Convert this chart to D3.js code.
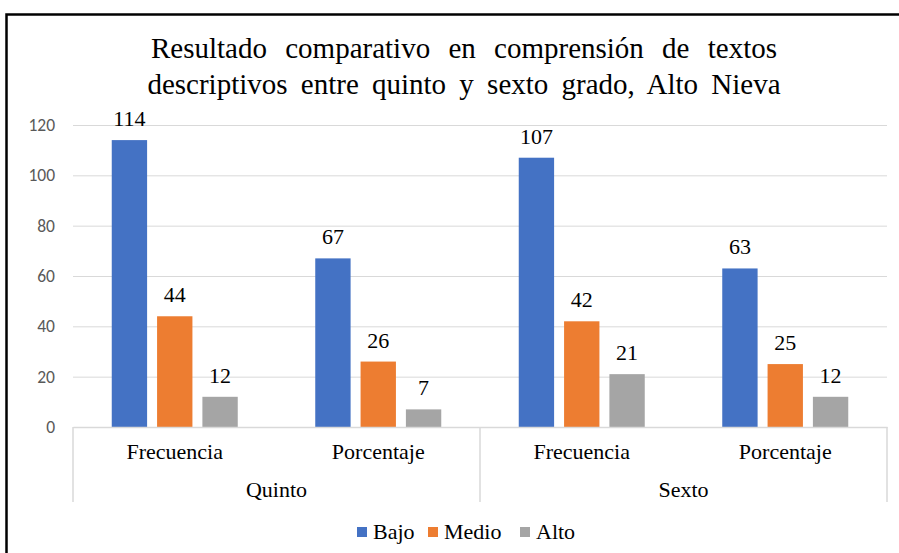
<!DOCTYPE html>
<html>
<head>
<meta charset="utf-8">
<style>
  html, body { margin: 0; padding: 0; background: #fff; }
  svg { display: block; }
</style>
</head>
<body>
<svg id="svg" width="899" height="553"></svg>
<script src="https://d3js.org/d3.v7.min.js"></script>
<script>
// data
const groups = ['Quinto', 'Sexto']
const measures = ['Frecuencia', 'Porcentaje']
const seriesNames = ['Bajo', 'Medio', 'Alto']
const bajo = [114, 67, 107, 63]
const medio = [44, 26, 42, 25]
const alto = [12, 7, 21, 12]
const yTicks = [0, 20, 40, 60, 80, 100, 120]
const titleLines = ['Resultado comparativo en comprensión de textos',
                    'descriptivos entre quinto y sexto grado, Alto Nieva']

const colors = { Bajo: '#4472C4', Medio: '#ED7D31', Alto: '#A5A5A5' }
const serif = '"Liberation Serif", "Times New Roman", serif'
const sans = 'Carlito, Calibri, Lato, sans-serif'

// build rows
const categories = []
groups.forEach(g => measures.forEach(m => categories.push({ group: g, measure: m, key: g + '|' + m })))
const rows = categories.map((c, i) => ({ ...c, Bajo: bajo[i], Medio: medio[i], Alto: alto[i] }))

const plot = { left: 73, right: 887, top: 125, bottom: 427 }

const svg = d3.select('#svg')

// outer frame
svg.append('rect')
  .attr('x', 6.5).attr('y', 14.5)
  .attr('width', 1000).attr('height', 1000)
  .attr('fill', 'none').attr('stroke', '#000').attr('stroke-width', 2.5)

// title (wide word gaps like the original)
const titleSpacing = [11, 6]
svg.append('text')
  .attr('x', 464).attr('y', 58)
  .attr('text-anchor', 'middle')
  .style('font-family', serif).style('font-size', '29px')
  .attr('fill', '#000')
  .selectAll('tspan').data(titleLines).enter().append('tspan')
  .attr('x', 464).attr('dy', (d, i) => i === 0 ? 0 : 36)
  .style('word-spacing', (d, i) => titleSpacing[i] + 'px')
  .text(d => d)

// scales
const x0 = d3.scaleBand().domain(categories.map(d => d.key)).range([plot.left, plot.right]).padding(0)
const xg = d3.scaleBand().domain(groups).range([plot.left, plot.right]).padding(0)
const clusterW = 126
const x1 = d3.scaleBand().domain(seriesNames)
  .range([(x0.bandwidth() - clusterW) / 2, (x0.bandwidth() + clusterW) / 2])
  .paddingInner(0.22).paddingOuter(0)
const y = d3.scaleLinear().domain([0, 120]).range([plot.bottom, plot.top])

// gridlines + value labels
const leftAxis = d3.axisLeft(y).tickValues(yTicks).tickSize(-(plot.right - plot.left)).tickPadding(18)
const gy = svg.append('g').attr('transform', `translate(${plot.left},0)`).call(leftAxis)
gy.select('.domain').remove()
gy.selectAll('.tick line').attr('stroke', '#D9D9D9').attr('stroke-width', 1)
gy.selectAll('.tick text')
  .attr('fill', '#595959')
  .style('font-family', sans).style('font-size', '17.5px')

// bars
const cat = svg.append('g').selectAll('g').data(rows).enter().append('g')
  .attr('transform', d => `translate(${x0(d.key)},0)`)

cat.selectAll('rect')
  .data(d => seriesNames.map(s => ({ s, v: d[s] })))
  .enter().append('rect')
  .attr('x', d => x1(d.s))
  .attr('y', d => y(d.v))
  .attr('width', x1.bandwidth())
  .attr('height', d => y(0) - y(d.v))
  .attr('fill', d => colors[d.s])

cat.selectAll('text.lbl')
  .data(d => seriesNames.map(s => ({ s, v: d[s] })))
  .enter().append('text')
  .attr('class', 'lbl')
  .attr('x', d => x1(d.s) + x1.bandwidth() / 2)
  .attr('y', d => y(d.v) - 14)
  .attr('text-anchor', 'middle')
  .style('font-family', serif).style('font-size', '22px')
  .attr('fill', '#000')
  .text(d => d.v)

// category axis (two levels)
const axisColor = '#D9D9D9'
const bottomAxis = d3.axisBottom(x0).tickSize(0).tickPadding(16).tickFormat(k => k.split('|')[1])
const gx = svg.append('g').attr('transform', `translate(0,${plot.bottom})`).call(bottomAxis)
gx.select('.domain').attr('stroke', axisColor).attr('stroke-width', 1.5)
gx.selectAll('.tick text')
  .attr('fill', '#000')
  .style('font-family', serif).style('font-size', '22px')

const groupAxis = d3.axisBottom(xg).tickSize(0).tickPadding(54)
const gg = svg.append('g').attr('transform', `translate(0,${plot.bottom})`).call(groupAxis)
gg.select('.domain').remove()
gg.selectAll('.tick text')
  .attr('fill', '#000')
  .style('font-family', serif).style('font-size', '22px')

// group separators
const seps = [plot.left, ...groups.map(g => xg(g) + xg.bandwidth())]
svg.append('g').selectAll('line').data(seps).enter().append('line')
  .attr('x1', d => d).attr('x2', d => d)
  .attr('y1', plot.bottom).attr('y2', 502)
  .attr('stroke', axisColor).attr('stroke-width', 1.5)

// legend
const legX = [357, 428, 520]
const leg = svg.append('g').selectAll('g').data(seriesNames).enter().append('g')
  .attr('transform', (d, i) => `translate(${legX[i]},527)`)
leg.append('rect').attr('width', 10).attr('height', 10).attr('fill', d => colors[d])
leg.append('text').attr('x', 16).attr('y', 12)
  .style('font-family', serif).style('font-size', '22px')
  .attr('fill', '#000')
  .text(d => d)
</script>
</body>
</html>
